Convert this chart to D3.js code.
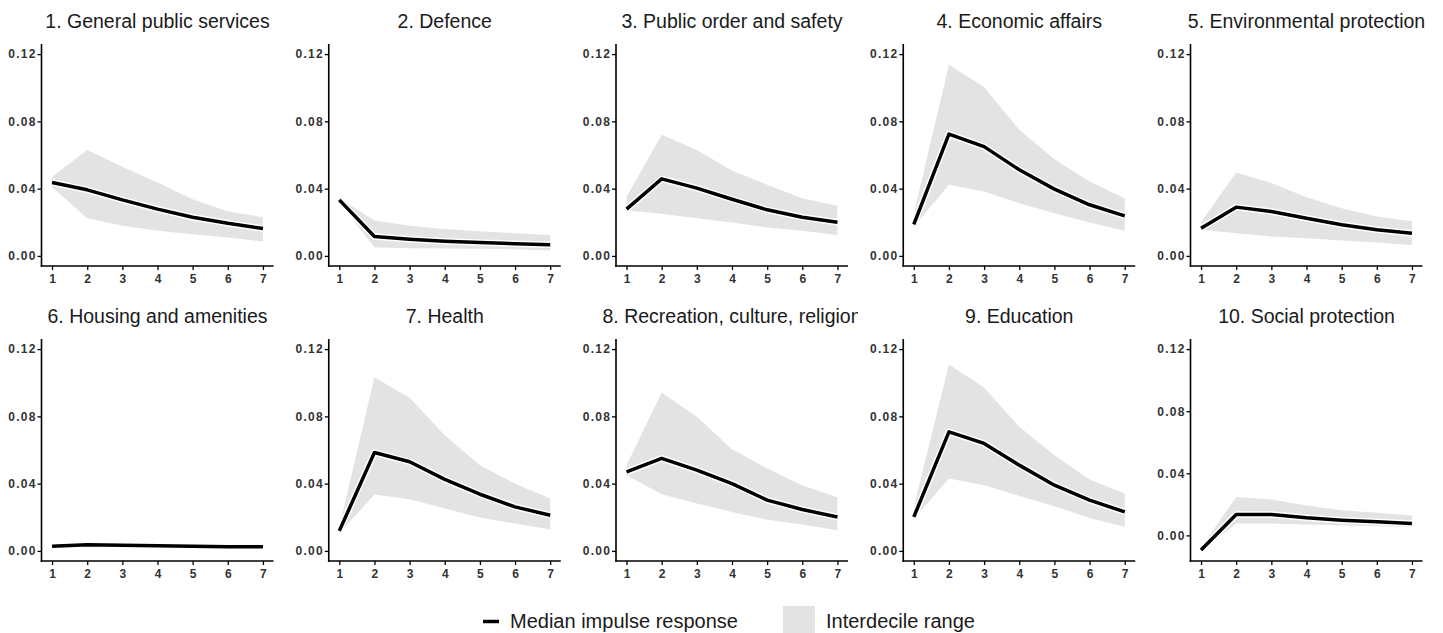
<!DOCTYPE html>
<html>
<head>
<meta charset="utf-8">
<script src="https://cdn.jsdelivr.net/npm/d3@7"></script>
<style>
  body { margin: 0; background: #fff; }
  svg { display: block; font-family: "Liberation Sans", Arial, sans-serif; }
</style>
</head>
<body>
<svg id="chart"></svg>
<script>
const W = 1443, H = 633;

// horizons and categories
const steps = [1, 2, 3, 4, 5, 6, 7];
const titles = [
  "1. General public services", "2. Defence", "3. Public order and safety",
  "4. Economic affairs", "5. Environmental protection",
  "6. Housing and amenities", "7. Health", "8. Recreation, culture, religion",
  "9. Education", "10. Social protection"
];
const yTicks = [0, 0.04, 0.08, 0.12];

// median impulse response per category
const median = [
  [0.0437, 0.0393, 0.0333, 0.0278, 0.0230, 0.0194, 0.0163],
  [0.0333, 0.0115, 0.0099, 0.0087, 0.0079, 0.0073, 0.0067],
  [0.0278, 0.0458, 0.0403, 0.0337, 0.0274, 0.0230, 0.0200],
  [0.0188, 0.0724, 0.0650, 0.0512, 0.0397, 0.0304, 0.0238],
  [0.0165, 0.0290, 0.0264, 0.0224, 0.0185, 0.0155, 0.0135],
  [0.0028, 0.0036, 0.0034, 0.0030, 0.0028, 0.0024, 0.0024],
  [0.0119, 0.0585, 0.0530, 0.0425, 0.0337, 0.0262, 0.0212],
  [0.0470, 0.0550, 0.0480, 0.0400, 0.0302, 0.0246, 0.0202],
  [0.0202, 0.0708, 0.0639, 0.0510, 0.0391, 0.0302, 0.0232],
  [-0.0094, 0.0135, 0.0135, 0.0113, 0.0098, 0.0088, 0.0077]
];
// upper decile
const upper = [
  [0.0470, 0.0630, 0.0530, 0.0437, 0.0337, 0.0264, 0.0230],
  [0.0345, 0.0210, 0.0179, 0.0159, 0.0147, 0.0135, 0.0125],
  [0.0350, 0.0720, 0.0630, 0.0508, 0.0423, 0.0343, 0.0298],
  [0.0250, 0.1137, 0.1004, 0.0750, 0.0575, 0.0442, 0.0343],
  [0.0200, 0.0496, 0.0433, 0.0349, 0.0284, 0.0234, 0.0206],
  [0.0032, 0.0040, 0.0038, 0.0034, 0.0032, 0.0028, 0.0028],
  [0.0140, 0.1032, 0.0910, 0.0688, 0.0510, 0.0400, 0.0311],
  [0.0510, 0.0942, 0.0798, 0.0605, 0.0490, 0.0390, 0.0317],
  [0.0260, 0.1109, 0.0972, 0.0738, 0.0569, 0.0425, 0.0341],
  [-0.0080, 0.0248, 0.0231, 0.0192, 0.0162, 0.0145, 0.0128]
];
// lower decile
const lower = [
  [0.0410, 0.0224, 0.0179, 0.0150, 0.0129, 0.0110, 0.0085],
  [0.0320, 0.0052, 0.0046, 0.0044, 0.0042, 0.0040, 0.0032],
  [0.0270, 0.0250, 0.0224, 0.0198, 0.0169, 0.0149, 0.0125],
  [0.0175, 0.0423, 0.0383, 0.0313, 0.0254, 0.0198, 0.0150],
  [0.0155, 0.0135, 0.0115, 0.0105, 0.0091, 0.0079, 0.0065],
  [0.0024, 0.0032, 0.0030, 0.0026, 0.0024, 0.0020, 0.0020],
  [0.0105, 0.0335, 0.0307, 0.0252, 0.0198, 0.0163, 0.0127],
  [0.0450, 0.0337, 0.0282, 0.0232, 0.0186, 0.0157, 0.0123],
  [0.0190, 0.0430, 0.0390, 0.0327, 0.0266, 0.0196, 0.0143],
  [-0.0100, 0.0077, 0.0077, 0.0070, 0.0064, 0.0060, 0.0053]
];

const legendLabels = ["Median impulse response", "Interdecile range"];

const band = "#e3e3e3";
const pw = 232, ph = 222;
const colStep = 287.25;
const rowTop = [44, 339];

const svg = d3.select("#chart").attr("width", W).attr("height", H);
const defs = svg.append("defs");

titles.forEach((title, i) => {
  const col = i % 5, row = Math.floor(i / 5);
  const left = 41.5 + col * colStep;
  const top = rowTop[row];

  const data = steps.map((s, j) => ({ s, m: median[i][j], hi: upper[i][j], lo: lower[i][j] }));
  const ymin = Math.min(0, d3.min(data, d => d.lo));
  const ymax = 0.12;
  const pad = (ymax - ymin) * 0.05;

  const x = d3.scaleLinear().domain([0.7, 7.3]).range([0, pw]);
  const y = d3.scaleLinear().domain([ymin - pad, ymax + pad]).range([ph, 0]);

  const g = svg.append("g").attr("transform", `translate(${left},${top})`);

  // title, clipped at the cell edge
  const clipId = "clip" + i;
  defs.append("clipPath").attr("id", clipId)
    .append("rect")
    .attr("x", left - 41.5).attr("y", 0)
    .attr("width", pw + 51.5).attr("height", H);
  svg.append("text")
    .attr("clip-path", `url(#${clipId})`)
    .attr("x", left + pw / 2)
    .attr("y", top - 16)
    .attr("text-anchor", "middle")
    .attr("font-size", 19.5)
    .attr("fill", "#1a1a1a")
    .text(title);

  const area = d3.area()
    .x(d => x(d.s))
    .y0(d => y(d.lo))
    .y1(d => y(d.hi));
  g.append("path").datum(data)
    .attr("d", area)
    .attr("fill", band);

  const line = d3.line().x(d => x(d.s)).y(d => y(d.m));
  g.append("path").datum(data)
    .attr("d", line)
    .attr("fill", "none")
    .attr("stroke", "#fff")
    .attr("stroke-width", 6.5)
    .attr("stroke-linejoin", "round");
  g.append("path").datum(data)
    .attr("d", line)
    .attr("fill", "none")
    .attr("stroke", "#000")
    .attr("stroke-width", 3.5)
    .attr("stroke-linejoin", "round");

  const xAxis = g.append("g")
    .attr("transform", `translate(0,${ph})`)
    .call(d3.axisBottom(x).tickValues(steps).tickFormat(d3.format("d")).tickSize(4).tickSizeOuter(0));
  const yAxis = g.append("g")
    .call(d3.axisLeft(y).tickValues(yTicks).tickFormat(d3.format(".2f")).tickSize(4).tickSizeOuter(0));

  [xAxis, yAxis].forEach(a => {
    a.attr("font-family", null).attr("font-size", null);
    a.select(".domain").attr("stroke", "#000").attr("stroke-width", 1.6);
    a.selectAll(".tick line").attr("stroke", "#000").attr("stroke-width", 1.3);
    a.selectAll(".tick text")
      .attr("fill", "#333")
      .attr("font-size", 12)
      .attr("font-weight", "bold");
  });
  xAxis.selectAll(".tick text").attr("dy", "0.85em");
  yAxis.selectAll(".tick text").attr("x", -5).attr("letter-spacing", 1.2);
  // extend the axis lines to meet in the corner
  xAxis.select(".domain").attr("d", `M-0.8,0H${pw}`);
  yAxis.select(".domain").attr("d", `M0,0V${ph + 0.8}`);
});

// legend
const lg = svg.append("g");
lg.append("line")
  .attr("x1", 483).attr("x2", 499)
  .attr("y1", 621.5).attr("y2", 621.5)
  .attr("stroke", "#000").attr("stroke-width", 3.5);
lg.append("text")
  .attr("x", 510).attr("y", 628)
  .attr("font-size", 20).attr("fill", "#1a1a1a")
  .text(legendLabels[0]);
lg.append("rect")
  .attr("x", 783).attr("y", 606)
  .attr("width", 32).attr("height", 32)
  .attr("fill", band);
lg.append("text")
  .attr("x", 826).attr("y", 628)
  .attr("font-size", 20).attr("fill", "#1a1a1a")
  .text(legendLabels[1]);
</script>
</body>
</html>
